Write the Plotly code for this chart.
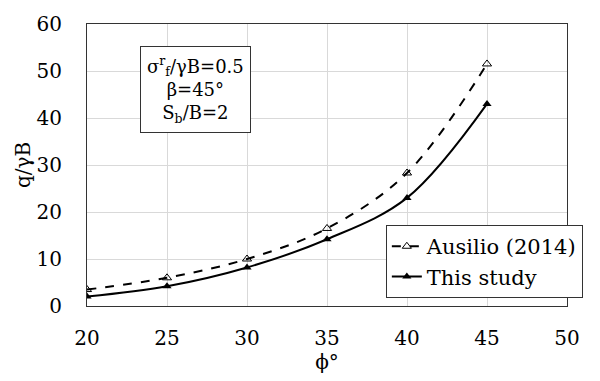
import plotly.graph_objects as go

phi = [20, 25, 30, 35, 40, 45]
ausilio = [3.5, 6.0, 10.0, 16.5, 28.3, 51.5]
this_study = [2.0, 4.2, 8.2, 14.2, 23.0, 43.0]

FONT = "DejaVu Serif"

fig = go.Figure()
fig.add_trace(go.Scatter(
    x=phi, y=ausilio, name="Ausilio (2014)", mode="lines+markers",
    line=dict(color="black", width=2, dash="dash", shape="spline"),
    marker=dict(symbol="triangle-up-open", size=8, color="black", line=dict(width=1)),
))
fig.add_trace(go.Scatter(
    x=phi, y=this_study, name="This study", mode="lines+markers",
    line=dict(color="black", width=2, shape="spline"),
    marker=dict(symbol="triangle-up", size=8, color="black"),
))

fig.update_layout(
    width=600, height=381,
    margin=dict(l=87, r=33, t=16, b=75),
    paper_bgcolor="white", plot_bgcolor="white",
    font=dict(family=FONT, size=20, color="black"),
    showlegend=True,
    legend=dict(
        x=1.033, xanchor="right", y=0.028, yanchor="bottom",
        bordercolor="#333", borderwidth=1, bgcolor="white",
        font=dict(family=FONT, size=21), tracegroupgap=0,
        itemwidth=30,
    ),
    xaxis=dict(
        range=[20, 50], dtick=5, tick0=20,
        showgrid=True, gridcolor="#d9d9d9", gridwidth=1,
        showline=True, linecolor="#333", linewidth=1, mirror=True,
        ticks="outside", ticklen=14, tickcolor="rgba(0,0,0,0)", zeroline=False,
        title=dict(text="ϕ°", standoff=0, font=dict(family=FONT, size=20)),
        tickfont=dict(family=FONT, size=20),
    ),
    yaxis=dict(
        range=[0, 60], dtick=10,
        showgrid=True, gridcolor="#d9d9d9", gridwidth=1,
        showline=True, linecolor="#333", linewidth=1, mirror=True,
        ticks="outside", ticklen=20, tickcolor="rgba(0,0,0,0)", zeroline=False,
        title=dict(text="q/γB", standoff=0, font=dict(family=FONT, size=20)),
        tickfont=dict(family=FONT, size=20),
    ),
    annotations=[dict(
        xref="paper", yref="paper", x=0.225, y=0.769, xanchor="center", yanchor="middle",
        text="σ<sup>r</sup><sub>f</sub>/γB=0.5<br>β=45°<br>S<sub>b</sub>/B=2",
        showarrow=False, align="center",
        font=dict(family=FONT, size=18),
        bordercolor="#333", borderwidth=1, borderpad=6, bgcolor="white",
    )],
)

fig.write_html("out.html")
